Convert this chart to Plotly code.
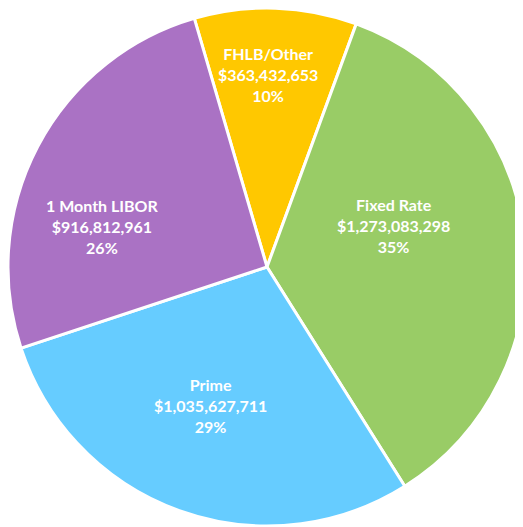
import plotly.graph_objects as go

# data
categories = ["FHLB/Other", "Fixed Rate", "Prime", "1 Month LIBOR"]
amounts = [363432653, 1273083298, 1035627711, 916812961]
colors = ["#FFC800", "#99CC66", "#66CCFF", "#AA72C4"]

# where each data label sits (pixels inside the figure)
label_pos = [(260, 66), (385, 217), (202, 397), (94, 219)]

W, H = 523, 527
total = sum(amounts)

fig = go.Figure()

fig.add_trace(
    go.Pie(
        labels=categories,
        values=amounts,
        textinfo="none",
        sort=False,
        direction="clockwise",
        rotation=-16.3,
        marker=dict(colors=colors, line=dict(color="white", width=3)),
        domain=dict(x=[0, 518 / W], y=[9 / H, 1]),
        hoverinfo="label+value+percent",
    )
)

# data labels
for c, v, (px, py) in zip(categories, amounts, label_pos):
    fig.add_annotation(
        x=px / W,
        y=1 - py / H,
        xref="paper",
        yref="paper",
        xanchor="center",
        yanchor="middle",
        text=f"<b>{c}<br>${v:,.0f}<br>{round(v / total * 100):.0f}%</b>",
        showarrow=False,
        align="center",
        font=dict(color="white", size=16, family="Lato"),
    )

fig.update_layout(
    width=W,
    height=H,
    margin=dict(l=0, r=0, t=0, b=0),
    showlegend=False,
    paper_bgcolor="white",
    font=dict(family="Lato"),
)

fig.write_html("out.html")
